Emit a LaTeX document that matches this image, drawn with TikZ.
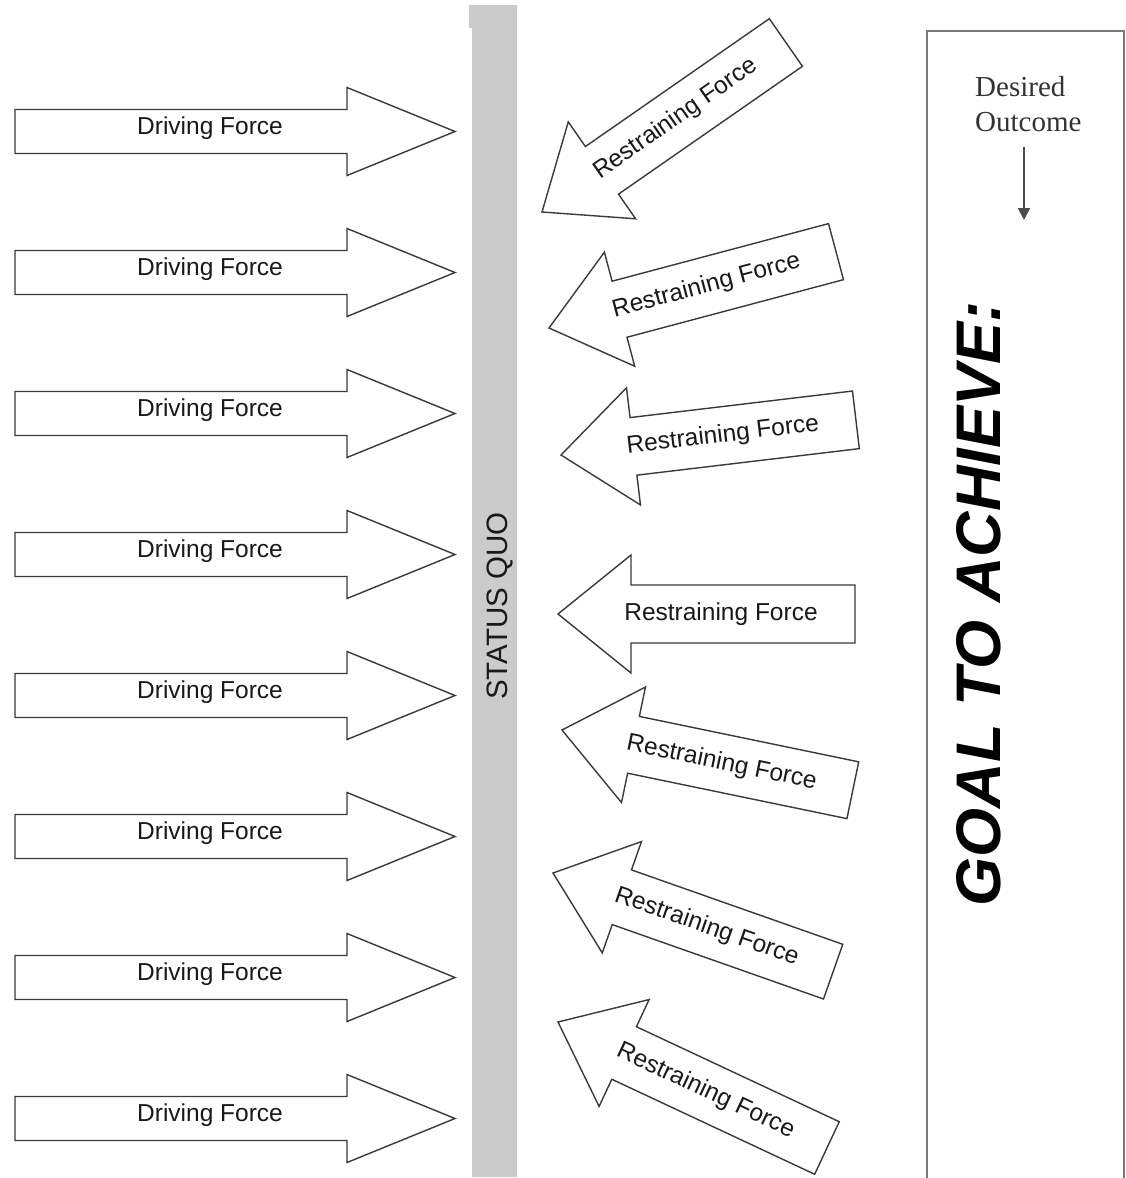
\documentclass[tikz,border=0pt]{standalone}
\usepackage{fontspec}
\setmainfont{Liberation Serif}
\setsansfont{Liberation Sans}
\usetikzlibrary{arrows.meta}

\definecolor{barfill}{HTML}{CBCBCB}
\definecolor{outline}{HTML}{3A3A3A}
\definecolor{frameline}{HTML}{7A7A7A}

\tikzset{
  forceshape/.style={draw=outline, line width=1.4pt, fill=white, line join=miter},
  forcetext/.style={font=\sffamily\fontsize{24.5}{28}\selectfont, text=black!90, inner sep=0pt},
  serifnote/.style={font=\rmfamily\fontsize{29}{35}\selectfont, text=black!80, inner sep=0pt, anchor=base west},
}

\begin{document}
\begin{tikzpicture}[x=1pt,y=-1pt]
\useasboundingbox (0,0) rectangle (1126,1178);
\fill[white] (0,0) rectangle (1126,1178);

% the status quo bar
\fill[barfill] (469,5) -- (517,5) -- (517,1177) -- (472,1177) -- (472,28) -- (469,28) -- cycle;
\node[rotate=90, font=\sffamily\fontsize{29.5}{32}\selectfont, text=black!90, inner sep=0pt] (statusquo) at (500,606) {STATUS QUO};

% driving forces, pushing right
\foreach \k/\cy in {1/131.5, 2/272.5, 3/413.5, 4/554.5, 5/695.5, 6/836.5, 7/977.5, 8/1118.5} {
  \begin{scope}[shift={(0,\cy)}]
    \draw[forceshape] (455,0) -- (347,-44) -- (347,-22) -- (15,-22) -- (15,22) -- (347,22) -- (347,44) -- cycle;
    \node[forcetext] (drive\k) at (210,-3) {Driving Force};
  \end{scope}
}

% restraining forces, pushing left: tip x / tip y / tilt
\foreach \k/\tx/\ty/\ang in {1/542/212/34.8, 2/549/328/14.9, 3/561/455/6.8, 4/558/614/0, 5/562/730/-11.7, 6/553/873/-19.4, 7/558/1022/-25.1} {
  \begin{scope}[shift={(\tx,\ty)}, rotate=\ang]
    \draw[forceshape] (0,0) -- (73,-59) -- (73,-29) -- (297,-29) -- (297,29) -- (73,29) -- (73,59) -- cycle;
    \node[forcetext, rotate=\ang] (restrain\k) at (163,0) {Restraining Force};
  \end{scope}
}

% goal panel
\draw[frameline, line width=2pt] (927,1178) -- (927,31) -- (1124,31) -- (1124,1178);
\node[serifnote] (desired) at (975,96) {Desired};
\node[serifnote] (outcome) at (975,131) {Outcome};
\coordinate (flowtop) at (1024,147);
\coordinate (flowend) at (1024,220);
\draw[black!70, line width=2pt, -{Triangle[length=12pt,width=12pt]}] (flowtop) -- (flowend);
\node[rotate=90, font=\sffamily\bfseries\itshape\fontsize{63}{70}\selectfont, inner sep=0pt] (goal) at (979,604) {GOAL TO ACHIEVE:};
\end{tikzpicture}
\end{document}
